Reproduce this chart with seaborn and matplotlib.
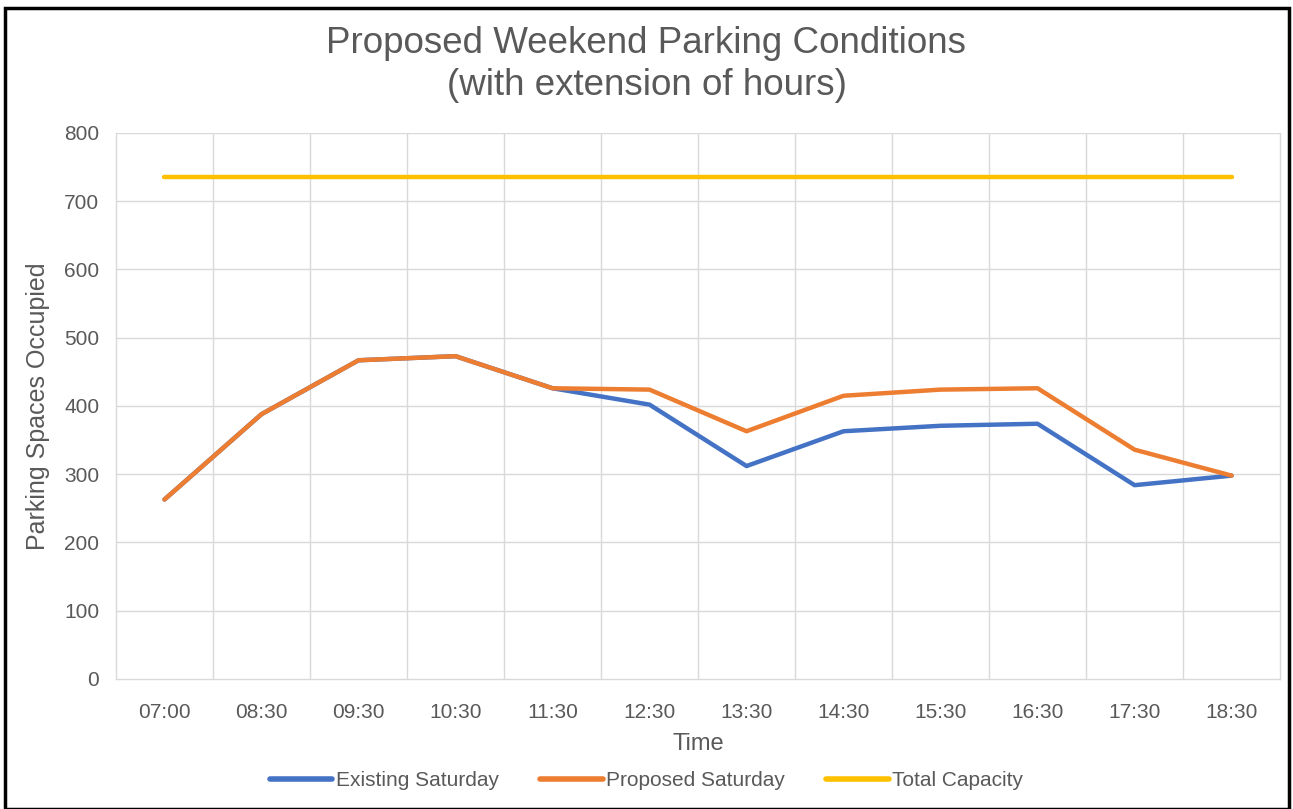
import numpy as np
import pandas as pd
import matplotlib
matplotlib.use("Agg")
import matplotlib.pyplot as plt
from matplotlib.patches import Rectangle
import seaborn as sns

# data
times = ["07:00", "08:30", "09:30", "10:30", "11:30", "12:30",
         "13:30", "14:30", "15:30", "16:30", "17:30", "18:30"]
existing_sat = [263, 388, 467, 473, 426, 402, 312, 363, 371, 374, 284, 298]
proposed_sat = [263, 388, 467, 473, 426, 424, 363, 415, 424, 426, 336, 298]
total_capacity = [735] * len(times)

series_names = ["Existing Saturday", "Proposed Saturday", "Total Capacity"]
colors = ["#4472C4", "#ED7D31", "#FFC000"]

df = pd.DataFrame({
    "Time": times * 3,
    "idx": list(range(len(times))) * 3,
    "value": existing_sat + proposed_sat + total_capacity,
    "series": [s for s in series_names for _ in times],
})

sns.set_theme(style="white")
plt.rcParams["font.family"] = ["Liberation Sans", "DejaVu Sans"]

fig = plt.figure(figsize=(12.93, 8.09), dpi=100)
ax = fig.add_axes([0.0897, 0.1607, 0.9003, 0.6749])

sns.lineplot(data=df, x="idx", y="value", hue="series", hue_order=series_names,
             palette=colors, linewidth=3.2, ax=ax, legend=False, sort=False)

grid_c = "#D9D9D9"
txt_c = "#595959"
ax.set_xlim(-0.5, len(times) - 0.5)
ax.set_ylim(0, 800)
ax.set_yticks(np.arange(0, 801, 100))
ax.set_xticks(range(len(times)))
ax.set_xticklabels(times)
for v in np.arange(100, 801, 100):
    ax.axhline(v, color=grid_c, lw=1, zorder=0)
for b in np.arange(0.5, len(times) - 0.5, 1):
    ax.axvline(b, color=grid_c, lw=1, zorder=0)
ax.spines["top"].set_visible(False)
for side in ["left", "bottom", "right"]:
    ax.spines[side].set_color(grid_c)
    ax.spines[side].set_linewidth(1)

ax.tick_params(axis="both", length=0, labelsize=15, labelcolor=txt_c)
ax.tick_params(axis="x", pad=17)
ax.tick_params(axis="y", pad=12)
ax.set_xlabel("Time", fontsize=17, color=txt_c, labelpad=8)
ax.set_ylabel("Parking Spaces Occupied", fontsize=18, color=txt_c, labelpad=10)

fig.suptitle("Proposed Weekend Parking Conditions\n(with extension of hours)",
             fontsize=26.5, color=txt_c, y=0.968, linespacing=1.25)

handles = [plt.Line2D([0], [0], color=c, lw=4) for c in colors]
fig.legend(handles, series_names, loc="center", bbox_to_anchor=(0.5, 0.035),
           ncol=3, frameon=False, fontsize=15, handlelength=3.0,
           handletextpad=0.15, columnspacing=2.0, labelcolor=txt_c)

fig.patches.append(Rectangle((0.004, 0.0), 0.993, 0.99, transform=fig.transFigure,
                             fill=False, edgecolor="black", lw=2.5))

fig.savefig("out.png", dpi=100)
